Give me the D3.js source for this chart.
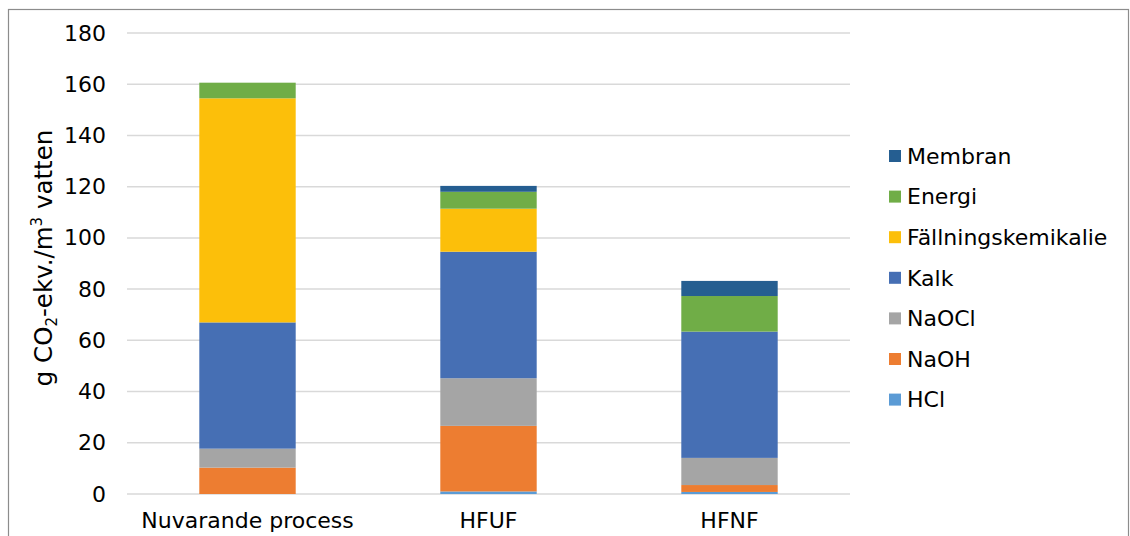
<!DOCTYPE html>
<html>
<head>
<meta charset="utf-8">
<script src="https://cdn.jsdelivr.net/npm/d3@7"></script>
<style>
  html, body { margin: 0; padding: 0; background: #fff; }
  svg { display: block; font-family: "DejaVu Sans", sans-serif; }
</style>
</head>
<body>
<svg id="chart" width="1130" height="536"></svg>
<script>
// Scenarios (x categories)
const categories = ["Nuvarande process", "HFUF", "HFNF"];

// Emission sources, bottom of stack first
const seriesNames = ["HCl", "NaOH", "NaOCl", "Kalk", "Fällningskemikalie", "Energi", "Membran"];
const seriesColors = ["#5B9BD5", "#ED7D31", "#A5A5A5", "#466FB4", "#FCBF0A", "#70AD47", "#255E91"];

// g CO2-ekv per m3 water, one value per scenario
const hcl     = [0.0, 1.0, 0.8];
const naoh    = [10.3, 25.6, 2.7];
const naocl   = [7.4, 18.6, 10.6];
const kalk    = [49.3, 49.4, 49.3];
const fallning = [87.5, 16.8, 0.0];
const energi  = [6.1, 6.6, 13.9];
const membran = [0.0, 2.3, 5.9];

const yTicks = [0, 20, 40, 60, 80, 100, 120, 140, 160, 180];

const seriesValues = [hcl, naoh, naocl, kalk, fallning, energi, membran];

const rows = categories.map((c, i) => {
  const r = { category: c };
  seriesNames.forEach((s, k) => { r[s] = seriesValues[k][i]; });
  return r;
});

const svg = d3.select("#chart");
const W = 1130, H = 536;
const FS = 22;

// outer frame
svg.append("rect")
  .attr("x", 8.5).attr("y", 9.5)
  .attr("width", W - 10).attr("height", H + 20)
  .attr("fill", "none").attr("stroke", "#8c8c8c").attr("stroke-width", 1.2);

const plot = { left: 127, right: 850, top: 33, bottom: 494 };

const x = d3.scaleBand()
  .domain(categories)
  .range([plot.left, plot.right])
  .paddingInner(0.6)
  .paddingOuter(0.3);

const y = d3.scaleLinear()
  .domain([0, 180])
  .range([plot.bottom, plot.top]);

// gridlines
svg.append("g")
  .selectAll("line")
  .data(yTicks)
  .join("line")
  .attr("x1", plot.left).attr("x2", plot.right)
  .attr("y1", d => y(d)).attr("y2", d => y(d))
  .attr("stroke", "#d9d9d9").attr("stroke-width", 1.5);

// y axis labels
const yAxis = d3.axisLeft(y).tickValues(yTicks).tickSize(0).tickPadding(0);
const gy = svg.append("g")
  .attr("transform", `translate(106,0)`)
  .call(yAxis);
gy.select(".domain").remove();
gy.selectAll("text")
  .attr("font-family", "DejaVu Sans, sans-serif")
  .attr("font-size", FS)
  .attr("fill", "#000");

// stacked bars
const stack = d3.stack().keys(seriesNames);
const layers = stack(rows);
const color = d3.scaleOrdinal().domain(seriesNames).range(seriesColors);

svg.append("g")
  .selectAll("g")
  .data(layers)
  .join("g")
  .attr("fill", d => color(d.key))
  .selectAll("rect")
  .data(d => d)
  .join("rect")
  .attr("x", d => x(d.data.category))
  .attr("width", x.bandwidth())
  .attr("y", d => y(d[1]))
  .attr("height", d => Math.max(0, y(d[0]) - y(d[1])));

// x axis labels
const xAxis = d3.axisBottom(x).tickSize(0).tickPadding(0);
const gx = svg.append("g")
  .attr("transform", `translate(0,${plot.bottom + 18})`)
  .call(xAxis);
gx.select(".domain").remove();
gx.selectAll("text")
  .attr("font-family", "DejaVu Sans, sans-serif")
  .attr("font-size", FS)
  .attr("fill", "#000");

// y axis title
const title = svg.append("text")
  .attr("transform", `translate(52,258) rotate(-90)`)
  .attr("text-anchor", "middle")
  .attr("font-size", 24.5)
  .attr("fill", "#000");
title.append("tspan").text("g CO");
title.append("tspan").attr("font-size", 15).attr("dy", 5).text("2");
title.append("tspan").attr("dy", -5).text("-ekv./m");
title.append("tspan").attr("font-size", 15).attr("dy", -10).text("3");
title.append("tspan").attr("dy", 10).text(" vatten");

// legend, top entry is last series
const legendItems = seriesNames.slice().reverse();
const lg = svg.append("g")
  .selectAll("g")
  .data(legendItems)
  .join("g")
  .attr("transform", (d, i) => `translate(889,${156 + i * 40.6})`);
lg.append("rect")
  .attr("x", 0).attr("y", -6)
  .attr("width", 12).attr("height", 12)
  .attr("fill", d => color(d));
lg.append("text")
  .attr("x", 18).attr("y", 0)
  .attr("dy", "0.35em")
  .attr("font-size", FS)
  .attr("fill", "#000")
  .text(d => d);
</script>
</body>
</html>
